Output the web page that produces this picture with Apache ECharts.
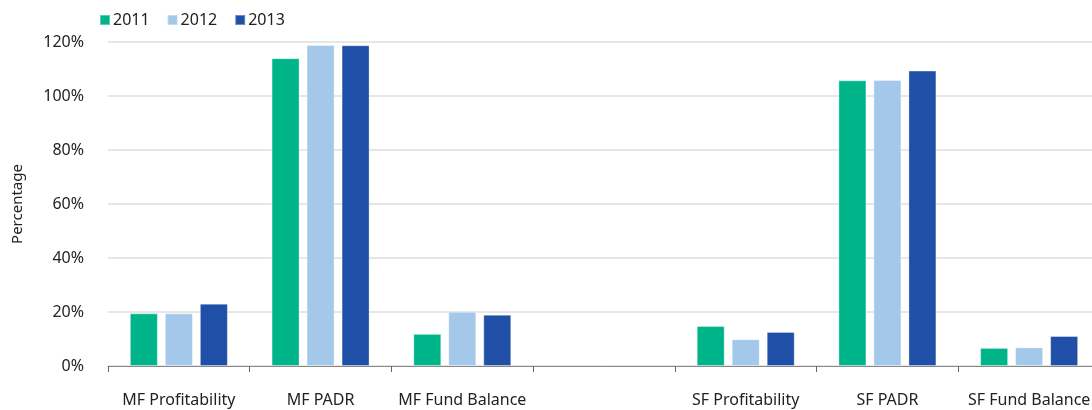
<!DOCTYPE html>
<html>
<head>
<meta charset="utf-8">
<script src="https://cdn.jsdelivr.net/npm/echarts@6/dist/echarts.min.js"></script>
<style>
  html, body { margin: 0; padding: 0; background: #fff; }
  #chart { width: 1092px; height: 410px; }
</style>
</head>
<body>
<div id="chart"></div>
<script>
// categories (one empty slot splits MF and SF groups)
const categories = ['MF Profitability', 'MF PADR', 'MF Fund Balance', '', 'SF Profitability', 'SF PADR', 'SF Fund Balance']
const years = ['2011', '2012', '2013']

// values in percent
const values2011 = [19.5, 114.0, 11.9, null, 14.8, 105.8, 6.7]
const values2012 = [19.5, 118.9, 20.1, null, 9.9, 105.9, 6.9]
const values2013 = [23.1, 118.8, 19.0, null, 12.6, 109.4, 11.1]

const yTicks = [0, 20, 40, 60, 80, 100, 120]

const colors = ['#00b48a', '#a3c8ea', '#1f4fa6']
const FONT = '"Noto Sans", sans-serif'

function barSeries(name, data, i) {
  return {
    name,
    type: 'bar',
    data,
    barWidth: 28,
    barGap: '25%',
    itemStyle: {
      color: colors[i],
      borderColor: 'rgba(255,255,255,0.35)',
      borderWidth: 1
    }
  }
}

const chart = echarts.init(document.getElementById('chart'), null, { renderer: 'canvas' })

chart.setOption({
  animation: false,
  textStyle: { fontFamily: FONT },
  color: colors,
  legend: {
    left: 94,
    top: 7,
    icon: 'rect',
    itemWidth: 10,
    itemHeight: 10,
    itemGap: 17,
    textStyle: { fontFamily: FONT, fontSize: 16, color: '#222', padding: [0, 0, 0, -2] },
    data: years
  },
  // the last category runs slightly past the right edge in the reference
  grid: { left: 108, right: -8, top: 42, bottom: 44, containLabel: false, outerBoundsMode: 'none' },
  xAxis: {
    type: 'category',
    data: categories,
    axisLine: { lineStyle: { color: '#888', width: 1 } },
    axisTick: { show: true, length: 6, lineStyle: { color: '#666' } },
    axisLabel: {
      interval: 0,
      margin: 26,
      fontFamily: FONT,
      fontSize: 16,
      color: '#222'
    }
  },
  yAxis: {
    type: 'value',
    min: yTicks[0],
    max: yTicks[yTicks.length - 1],
    interval: 20,
    name: 'Percentage',
    nameLocation: 'middle',
    nameRotate: 90,
    nameGap: 83,
    nameTextStyle: { fontFamily: FONT, fontSize: 15, color: '#222' },
    axisLine: { show: false },
    axisTick: { show: false },
    axisLabel: {
      margin: 24,
      fontFamily: FONT,
      fontSize: 16,
      color: '#222',
      formatter: '{value}%'
    },
    splitLine: { lineStyle: { color: '#dedede', width: 1.5 } }
  },
  series: [
    barSeries(years[0], values2011, 0),
    barSeries(years[1], values2012, 1),
    barSeries(years[2], values2013, 2)
  ]
})
</script>
</body>
</html>
